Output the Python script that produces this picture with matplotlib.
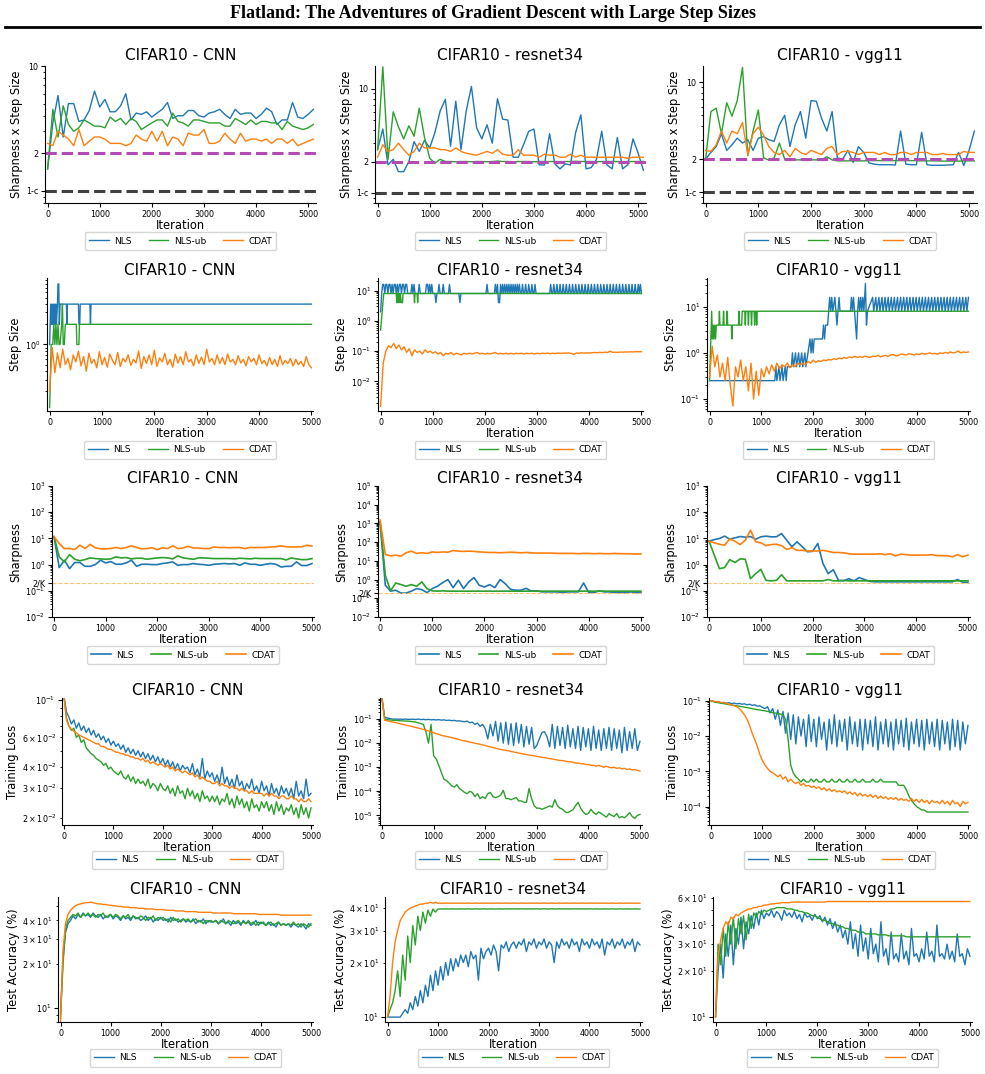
import numpy as np
import matplotlib.pyplot as plt
from matplotlib.lines import Line2D
from matplotlib.ticker import NullFormatter

# ---------------- data ----------------
methods = ['NLS', 'NLS-ub', 'CDAT']
models = ['CNN', 'resnet34', 'vgg11']

# row 1: sharpness x step size, every 100 iterations (0..5100)
sxs_cnn_nls = [1.5, 3.5, 5.8, 2.7, 5.0, 5.0, 3.6, 3.7, 4.4, 6.3, 4.7, 5.4, 4.3, 4.3, 4.8, 6.0, 3.7, 4.2, 4.1, 4.3,
               3.9, 4.2, 4.5, 5.1, 3.8, 4.0, 4.0, 4.4, 4.4, 4.0, 3.9, 4.2, 4.3, 4.5, 4.1, 3.8, 4.5, 4.1, 4.2, 4.2,
               3.8, 4.1, 4.6, 4.3, 3.4, 3.7, 3.7, 5.1, 3.9, 3.8, 4.1, 4.5]
sxs_cnn_ub = [1.5, 4.5, 2.7, 4.8, 3.4, 3.0, 3.2, 3.7, 3.5, 3.3, 3.3, 3.2, 3.9, 3.6, 3.8, 3.4, 3.8, 3.6, 3.1, 3.3,
              3.5, 3.7, 3.7, 3.3, 4.2, 3.6, 3.5, 3.3, 3.7, 3.7, 3.6, 3.5, 3.5, 3.5, 3.3, 3.3, 3.8, 3.6, 3.4, 3.7,
              3.4, 3.6, 3.6, 3.5, 3.5, 3.1, 3.6, 3.3, 3.2, 3.1, 3.2, 3.4]
sxs_cnn_cdat = [2.4, 2.3, 3.0, 2.8, 2.6, 2.3, 3.1, 2.3, 2.5, 2.7, 2.7, 2.6, 2.4, 2.4, 2.4, 2.3, 2.4, 2.8, 2.6, 2.5,
                3.0, 2.5, 3.0, 2.3, 2.7, 2.6, 2.3, 2.9, 2.8, 2.8, 3.1, 2.4, 2.4, 2.5, 2.9, 2.6, 2.4, 2.9, 2.5, 2.6,
                2.6, 2.5, 2.6, 2.4, 2.6, 2.6, 2.4, 2.6, 2.3, 2.4, 2.5, 2.6]
sxs_res_nls = [2.6, 4.1, 1.86, 2.1, 1.6, 1.6, 2.0, 3.1, 2.5, 3.2, 2.7, 3.8, 6.1, 7.9, 2.8, 7.6, 2.6, 6.1, 10.5, 4.2,
               3.3, 4.5, 3.0, 8.0, 5.1, 5.0, 2.2, 2.2, 2.9, 3.9, 4.1, 1.86, 1.85, 3.7, 1.9, 1.7, 1.9, 1.85, 3.8, 5.6,
               1.7, 1.75, 2.1, 3.9, 1.86, 1.7, 3.4, 1.7, 1.86, 3.3, 2.4, 1.65]
sxs_res_ub = [2.6, 16.2, 2.1, 6.0, 4.3, 3.3, 4.4, 3.5, 6.5, 3.4, 2.15, 1.93, 2.1, 2.0, 2.0, 1.99, 2.0, 2.0, 1.99, 2.0,
              2.0, 1.99, 2.0, 2.02, 2.0, 2.0, 1.99, 2.0, 2.0, 2.0, 1.99, 2.0, 2.0, 2.0, 2.0, 1.99, 2.0, 2.0, 2.01, 2.0,
              2.0, 2.0, 1.99, 2.0, 2.0, 2.0, 2.0, 1.99, 2.0, 2.0, 2.0, 2.0]
sxs_res_cdat = [2.2, 2.9, 2.5, 2.6, 3.0, 2.6, 2.3, 2.5, 3.0, 2.7, 2.7, 2.7, 2.6, 2.6, 2.5, 2.7, 2.5, 2.4, 2.35, 2.3,
                2.4, 2.5, 2.4, 2.6, 2.35, 2.3, 2.3, 2.6, 2.3, 2.3, 2.3, 2.2, 2.35, 2.3, 2.3, 2.2, 2.2, 2.35, 2.2, 2.3,
                2.2, 2.2, 2.2, 2.2, 2.2, 2.2, 2.2, 2.2, 2.15, 2.2, 2.2, 2.2]
sxs_vgg_nls = [2.0, 2.3, 2.6, 3.4, 2.4, 2.7, 3.1, 2.8, 3.0, 2.4, 3.1, 3.2, 3.0, 2.9, 4.1, 5.0, 2.6, 4.1, 5.4, 3.1,
               6.8, 6.7, 4.7, 3.6, 5.4, 2.05, 2.0, 2.4, 1.87, 2.6, 2.3, 1.85, 1.8, 1.78, 1.78, 1.78, 1.77, 3.6, 1.8, 1.78,
               1.78, 3.5, 1.78, 1.76, 1.76, 1.76, 1.77, 1.78, 2.3, 1.75, 2.4, 3.6]
sxs_vgg_ub = [2.0, 5.4, 5.8, 3.4, 6.5, 4.9, 6.8, 13.6, 2.15, 3.6, 5.6, 2.05, 1.96, 2.05, 2.8, 2.0, 1.97, 1.97, 1.97, 1.97,
              1.97, 1.97, 1.97, 2.1, 1.97, 1.93, 1.93, 1.93, 1.93, 1.93, 1.93, 1.94, 1.94, 1.94, 1.94, 1.94, 1.94, 1.94,
              1.94, 1.94, 1.94, 1.93, 1.93, 1.93, 1.93, 1.92, 1.92, 1.92, 1.92, 1.93, 1.93, 1.93]
sxs_vgg_cdat = [2.4, 2.35, 2.7, 3.6, 2.8, 3.6, 3.4, 4.3, 2.2, 3.4, 3.9, 3.3, 2.6, 2.3, 2.2, 2.4, 2.1, 2.5, 2.3, 2.2,
                2.4, 2.3, 2.2, 2.5, 2.6, 2.2, 2.35, 2.35, 2.3, 2.2, 2.3, 2.3, 2.3, 2.2, 2.3, 2.2, 2.2, 2.3, 2.3, 2.2,
                2.3, 2.3, 2.3, 2.2, 2.2, 2.25, 2.2, 2.2, 2.2, 2.35, 2.3, 2.3]

# row 2: step size
ss_cnn_nls_it = [0, 20, 30, 45, 55, 70, 80, 95, 105, 120, 130, 150, 160, 175, 185, 200, 210, 320, 330, 340,
                 550, 560, 575, 585, 770, 780, 790, 5000]
ss_cnn_nls = [1.0, 4, 2, 4, 2, 4, 2, 4, 2, 4, 2, 4, 8, 8, 2, 4, 4, 4, 2, 4, 4, 2, 2, 4, 4, 2, 4, 4]
ss_cnn_ub_it = [0, 30, 60, 80, 100, 120, 140, 160, 180, 200, 230, 245, 260, 280, 300, 510, 520, 560, 570, 5000]
ss_cnn_ub = [0.115, 1, 1, 2, 1, 2, 1, 2, 1, 1, 2, 4, 1, 1, 2, 2, 1, 1, 2, 2]
ss_cnn_cdat = [0.2, 0.9, 0.38, 0.75, 0.45, 0.85, 0.5, 0.62, 0.42, 0.7, 0.55, 0.8, 0.48, 0.66, 0.4, 0.74, 0.52, 0.6,
               0.45, 0.78, 0.5, 0.64, 0.46, 0.72, 0.58, 0.5, 0.76, 0.47, 0.62, 0.55, 0.7, 0.49, 0.6, 0.53, 0.8, 0.44,
               0.66, 0.52, 0.7, 0.5, 0.82, 0.47, 0.63, 0.55, 0.74, 0.5, 0.6, 0.46, 0.72, 0.53, 0.66, 0.5, 0.78, 0.55,
               0.6, 0.48, 0.7, 0.52, 0.65, 0.5, 0.85, 0.55, 0.62, 0.5, 0.7, 0.52, 0.64, 0.5, 0.72, 0.55, 0.6, 0.5,
               0.68, 0.53, 0.6, 0.48, 0.66, 0.55, 0.62, 0.5, 0.7, 0.52, 0.58, 0.48, 0.64, 0.5, 0.6, 0.47, 0.68, 0.5,
               0.58, 0.52, 0.62, 0.48, 0.6, 0.5, 0.56, 0.47, 0.66, 0.5, 0.45]

ss_res_nls_start = 2.0
ss_res_nls_base = 8.0
ss_res_nls_hi = [40, 60, 100, 120, 160, 180, 220, 260, 280, 320, 360, 380, 420, 440, 480, 500, 600, 640, 740, 880,
                 900, 940, 980, 1120, 1200, 1320, 2040, 2200, 2240, 2300, 2340, 2380, 2420, 2460, 2500, 2540, 2580,
                 2620, 2660, 2720, 2780, 2840, 2900, 2960, 3260, 3320, 3380, 3440, 3500, 3560, 3620, 3680, 3740, 3800,
                 3860, 3920, 3980, 4040, 4100, 4160, 4220, 4280, 4340, 4400, 4460, 4520, 4580, 4640, 4700, 4760,
                 4820, 4880, 4940, 4980]
ss_res_nls_lo = [1060, 1520, 2260, 2280]
ss_res_ub_it = [0, 30, 60, 300, 310, 320, 330, 345, 355, 370, 380, 395, 405, 420, 430, 640, 650, 660, 700, 710, 720, 5000]
ss_res_ub = [0.5, 2, 8, 8, 4, 4, 8, 4, 8, 4, 8, 4, 4, 4, 8, 8, 4, 8, 8, 4, 8, 8]
ss_res_cdat = [0.0015, 0.04, 0.1, 0.15, 0.13, 0.18, 0.12, 0.16, 0.11, 0.14, 0.09,
               0.12, 0.07, 0.11, 0.09, 0.1, 0.08, 0.11, 0.09, 0.1, 0.085,
               0.095, 0.08, 0.09, 0.07, 0.085, 0.08, 0.09, 0.075, 0.085, 0.08,
               0.075, 0.085, 0.08, 0.085, 0.08, 0.085, 0.09, 0.08, 0.085, 0.08,
               0.085, 0.08, 0.085, 0.09, 0.08, 0.085, 0.08, 0.085, 0.08, 0.085,
               0.08, 0.085, 0.082, 0.085, 0.08, 0.085, 0.082, 0.085, 0.08, 0.085,
               0.082, 0.085, 0.083, 0.086, 0.082, 0.085, 0.083, 0.086, 0.084, 0.086,
               0.085, 0.087, 0.084, 0.078, 0.086, 0.085, 0.088, 0.086, 0.088, 0.087,
               0.088, 0.09, 0.088, 0.091, 0.089, 0.092, 0.09, 0.1, 0.091, 0.092,
               0.091, 0.093, 0.092, 0.094, 0.093, 0.095, 0.094, 0.096, 0.095, 0.096]

ss_vgg_nls_it = [0, 1260, 1280, 1300, 1340, 1360, 1400, 1420, 1460, 1480, 1500, 1580, 1600, 1620, 1660, 1680, 1720,
                 1740, 1780, 1800, 1840, 1860, 1900, 1940, 1960, 1980, 2000, 2020, 2180, 2200, 2220, 2240, 2280, 2300,
                 2320, 2340, 2360, 2380, 2420, 2440, 2460, 2480, 2500, 2520, 2720, 2740, 2760, 2780, 2800, 2840, 2860,
                 2880, 2900, 2920, 2940, 2960, 2980, 3010, 3030, 3050,
                 3150, 3170, 3210, 3230, 3270, 3290, 3330, 3350, 3390, 3410, 3450, 3470, 3510, 3530, 3570, 3590,
                 3630, 3650, 3690, 3710, 3750, 3770, 3810, 3830, 3870, 3890, 3930, 3950, 3990, 4010, 4050, 4070,
                 4110, 4130, 4170, 4190, 4230, 4250, 4290, 4310, 4350, 4370, 4410, 4430, 4470, 4490, 4530, 4550,
                 4590, 4610, 4650, 4670, 4710, 4730, 4770, 4790, 4830, 4850, 4890, 4910, 4950, 4970, 5000]
ss_vgg_nls = [0.25, 0.25, 0.5, 0.25, 0.5, 0.25, 0.5, 0.25, 0.5, 0.25, 0.5, 0.5, 1, 0.5, 1, 0.5, 1, 0.5, 1, 0.5,
              1, 0.5, 1, 2, 1, 2, 1, 2, 2, 4, 2, 4, 4, 8, 16, 8, 16, 8, 16, 8, 4, 8, 16, 8, 8, 16, 8, 16, 8, 2,
              8, 16, 8, 16, 8, 16, 8, 32, 4, 8,
              16, 8, 16, 8, 16, 8, 16, 8, 16, 8, 16, 8, 16, 8, 16, 8, 16, 8, 16, 8, 16, 8, 16, 8, 16, 8, 16, 8,
              16, 8, 16, 8, 16, 8, 16, 8, 16, 8, 16, 8, 16, 8, 16, 8, 16, 8, 16, 8, 16, 8, 16, 8, 16, 8, 16, 8,
              16, 8, 16, 8, 16, 8, 16]
ss_vgg_ub_it = [0, 40, 55, 70, 85, 100, 115, 130, 180, 190, 200, 260, 270, 280, 330, 340, 350, 420, 430, 440,
                560, 570, 580, 620, 630, 640, 680, 690, 700, 740, 750, 760, 800, 810, 820, 860, 870, 880, 900, 910,
                920, 960, 970, 5000]
ss_vgg_ub = [0.25, 8, 2, 4, 2, 4, 2, 4, 4, 8, 4, 4, 8, 4, 4, 8, 4, 4, 2, 4, 4, 8, 4, 4, 8, 8, 8, 4, 8, 8,
             4, 8, 8, 4, 8, 8, 4, 8, 8, 4, 8, 8, 8, 8]
ss_vgg_cdat = [0.3, 1.4, 0.5, 0.9, 0.3, 0.6, 0.25, 0.8, 0.2, 0.07, 0.5, 0.3, 0.7, 0.25, 0.5, 0.15, 0.6, 0.1, 0.4,
               0.12, 0.45, 0.3, 0.5, 0.35, 0.55, 0.4, 0.6, 0.45, 0.55, 0.5, 0.6, 0.48, 0.55, 0.5, 0.6, 0.55, 0.6,
               0.55, 0.65, 0.6, 0.7, 0.62, 0.68, 0.65, 0.7, 0.68, 0.72, 0.7, 0.75, 0.72, 0.78, 0.74, 0.8, 0.76,
               0.82, 0.78, 0.85, 0.8, 0.83, 0.8, 0.85, 0.82, 0.8, 0.85, 0.83, 0.88, 0.82, 0.86, 0.88, 0.84, 0.9,
               0.92, 0.86, 0.88, 0.95, 0.92, 0.9, 0.96, 0.93, 0.9, 0.95, 0.92, 0.98, 0.94, 0.96, 1.0, 0.95, 0.98,
               0.94, 1.0, 0.97, 1.02, 0.98, 1.05, 1.0, 1.02, 1.1, 1.0, 1.05, 1.02, 1.05]

# row 3: sharpness, every 100 iterations (0..5000)
sh_cnn_nls = [11.6, 0.77, 1.47, 0.7, 1.2, 1.2, 0.86, 0.86, 1.0, 1.47, 1.16, 1.3, 1.03, 1.03, 1.16, 1.47, 0.86, 1.03,
              1.03, 1.0, 1.0, 1.1, 1.16, 1.27, 0.94, 1.0, 1.0, 1.1, 1.03, 1.0, 0.94, 1.03, 1.06, 1.1, 1.06, 1.1, 0.94,
              1.16, 1.03, 1.03, 0.94, 1.03, 1.1, 1.03, 0.81, 0.86, 0.86, 1.27, 0.92, 0.92, 1.1]
sh_cnn_ub = [11.6, 1.97, 1.27, 2.4, 1.6, 1.4, 1.55, 1.8, 1.7, 1.65, 1.6, 1.65, 1.97, 1.8, 1.85, 1.65, 1.75, 1.75,
             1.6, 1.7, 1.8, 1.85, 1.8, 1.65, 2.15, 1.8, 1.7, 1.6, 1.8, 1.8, 1.75, 1.7, 1.7, 1.7, 1.7, 1.65, 1.75,
             1.7, 1.65, 1.75, 1.7, 1.7, 1.7, 1.7, 1.7, 1.5, 1.8, 1.65, 1.55, 1.55, 1.7]
sh_cnn_cdat = [11.6, 6.4, 4.1, 4.1, 3.8, 5.5, 4.1, 5.9, 4.4, 4.0, 4.0, 4.1, 4.5, 4.1, 4.5, 5.2, 4.5, 4.0, 4.1, 4.4,
               3.7, 4.4, 4.1, 5.2, 4.1, 4.3, 5.0, 4.3, 4.3, 4.1, 4.1, 4.7, 4.5, 4.5, 4.4, 4.5, 4.5, 4.1, 4.5, 4.5,
               4.5, 4.5, 4.7, 4.8, 5.2, 4.8, 4.7, 4.7, 4.8, 5.5, 5.1]
sh_res_nls = [1200, 0.5, 0.24, 0.27, 0.19, 0.19, 0.24, 0.33, 0.29, 0.2, 0.33, 0.44, 0.69, 1.0, 0.37, 0.92, 0.33, 0.75,
              1.28, 0.5, 0.4, 0.54, 0.37, 1.0, 0.6, 0.3, 0.27, 0.27, 0.34, 0.24, 0.25, 0.22, 0.22, 0.22, 0.22, 0.2,
              0.22, 0.22, 0.22, 0.66, 0.2, 0.2, 0.25, 0.22, 0.22, 0.2, 0.2, 0.2, 0.22, 0.2, 0.2]
sh_res_ub = [1200, 1.7, 0.25, 0.66, 0.54, 0.44, 0.54, 0.44, 0.75, 0.33, 0.25, 0.24, 0.25, 0.24, 0.24, 0.24, 0.24,
             0.24, 0.24, 0.24, 0.24, 0.24, 0.24, 0.24, 0.24, 0.24, 0.24, 0.24, 0.24, 0.24, 0.24, 0.24, 0.24, 0.24,
             0.24, 0.24, 0.24, 0.24, 0.24, 0.24, 0.24, 0.24, 0.24, 0.24, 0.24, 0.24, 0.24, 0.24, 0.24, 0.24, 0.24]
sh_res_cdat = [1500, 22, 18.5, 20, 18, 27, 33, 25, 27, 25, 30, 28, 30, 29, 36, 33, 32, 33, 32, 30, 29, 28, 28, 27,
               28, 29, 28, 27, 28, 27, 26, 26, 26, 26, 25, 25, 25, 25, 24, 25, 25, 24, 25, 24, 24, 25, 24, 24, 24,
               23, 23.5]
sh_vgg_nls = [7.8, 9.0, 9.9, 12.2, 9.3, 10.5, 11.8, 11.1, 11.8, 9.3, 11.5, 12.2, 11.5, 11.5, 15.3, 8.5, 4.8, 7.4,
              4.8, 3.1, 3.2, 6.4, 1.09, 0.45, 0.64, 0.25, 0.24, 0.29, 0.24, 0.32, 0.27, 0.23, 0.22, 0.22, 0.22, 0.22,
              0.22, 0.22, 0.22, 0.22, 0.22, 0.22, 0.22, 0.22, 0.22, 0.22, 0.22, 0.22, 0.27, 0.21, 0.21]
sh_vgg_ub = [7.8, 2.3, 0.7, 0.77, 1.55, 1.2, 1.65, 1.6, 0.29, 0.45, 0.66, 0.25, 0.24, 0.25, 0.41, 0.24, 0.24, 0.24,
             0.24, 0.24, 0.24, 0.24, 0.24, 0.27, 0.24, 0.24, 0.25, 0.24, 0.24, 0.24, 0.24, 0.24, 0.24, 0.24, 0.24,
             0.24, 0.24, 0.24, 0.24, 0.24, 0.24, 0.24, 0.24, 0.24, 0.24, 0.24, 0.24, 0.24, 0.24, 0.24, 0.24]
sh_vgg_cdat = [7.8, 6.8, 6.0, 5.5, 9.6, 7.8, 5.8, 8.5, 20.7, 7.4, 6.8, 5.3, 5.8, 6.0, 5.3, 3.8, 4.4, 3.5, 3.5, 3.3,
               3.3, 3.3, 3.5, 3.2, 2.9, 2.9, 2.8, 2.6, 2.5, 2.5, 2.5, 2.5, 2.5, 2.6, 2.4, 2.6, 2.15, 2.5, 2.4, 2.3,
               2.3, 2.3, 2.3, 2.4, 2.2, 2.2, 2.2, 1.97, 2.4, 2.0, 2.3]
two_over_k = 0.2

# row 4: training loss, every 50 iterations (0..5000)
tl_cnn_nls = [0.105,
              0.085, 0.079, 0.072, 0.076, 0.068, 0.073, 0.066, 0.07, 0.064, 0.068,
              0.062, 0.066, 0.06, 0.063, 0.058, 0.061, 0.056, 0.059, 0.054, 0.057,
              0.053, 0.055, 0.051, 0.054, 0.049, 0.052, 0.048, 0.051, 0.047, 0.05,
              0.046, 0.049, 0.045, 0.048, 0.044, 0.047, 0.043, 0.046, 0.042, 0.045,
              0.041, 0.044, 0.04, 0.043, 0.039, 0.042, 0.038, 0.041, 0.039, 0.04,
              0.037, 0.042, 0.036, 0.039, 0.035, 0.045, 0.034, 0.038, 0.035, 0.037,
              0.033, 0.036, 0.032, 0.04, 0.032, 0.035, 0.031, 0.034, 0.03, 0.036,
              0.031, 0.033, 0.029, 0.032, 0.03, 0.034, 0.029, 0.031, 0.028, 0.033,
              0.029, 0.031, 0.027, 0.032, 0.028, 0.03, 0.027, 0.031, 0.028, 0.03,
              0.027, 0.03, 0.026, 0.033, 0.027, 0.029, 0.026, 0.034, 0.027, 0.028]
tl_cnn_ub = [0.105,
             0.078, 0.07, 0.066, 0.068, 0.06, 0.062, 0.056, 0.058, 0.052, 0.05,
             0.048, 0.047, 0.045, 0.044, 0.043, 0.041, 0.042, 0.039, 0.04, 0.038,
             0.037, 0.036, 0.038, 0.035, 0.034, 0.036, 0.033, 0.035, 0.032, 0.034,
             0.032, 0.033, 0.031, 0.034, 0.03, 0.032, 0.031, 0.029, 0.032, 0.03,
             0.029, 0.031, 0.028, 0.03, 0.027, 0.031, 0.028, 0.029, 0.026, 0.03,
             0.027, 0.029, 0.026, 0.028, 0.025, 0.029, 0.026, 0.027, 0.025, 0.027,
             0.025, 0.027, 0.024, 0.026, 0.025, 0.028, 0.024, 0.026, 0.023, 0.027,
             0.024, 0.026, 0.023, 0.025, 0.022, 0.026, 0.023, 0.024, 0.022, 0.025,
             0.023, 0.025, 0.022, 0.024, 0.021, 0.025, 0.022, 0.024, 0.021, 0.023,
             0.022, 0.024, 0.021, 0.023, 0.02, 0.024, 0.021, 0.023, 0.02, 0.023]
tl_cnn_cdat = [0.105,
               0.076, 0.07, 0.067, 0.065, 0.064, 0.062, 0.061, 0.06, 0.059, 0.058,
               0.057, 0.056, 0.055, 0.055, 0.053, 0.053, 0.052, 0.051, 0.051, 0.05,
               0.049, 0.049, 0.048, 0.048, 0.047, 0.047, 0.046, 0.046, 0.045, 0.045,
               0.044, 0.045, 0.043, 0.044, 0.042, 0.043, 0.042, 0.041, 0.042, 0.041,
               0.04, 0.041, 0.039, 0.04, 0.038, 0.039, 0.038, 0.037, 0.038, 0.037,
               0.036, 0.037, 0.035, 0.036, 0.034, 0.035, 0.034, 0.033, 0.033, 0.032,
               0.032, 0.033, 0.031, 0.032, 0.031, 0.031, 0.030, 0.031, 0.030, 0.030,
               0.029, 0.030, 0.029, 0.029, 0.028, 0.029, 0.028, 0.028, 0.028, 0.028,
               0.027, 0.028, 0.027, 0.028, 0.027, 0.027, 0.026, 0.027, 0.027, 0.026,
               0.026, 0.027, 0.026, 0.026, 0.025, 0.026, 0.025, 0.025, 0.026, 0.025]
tl_res_nls = [0.7,
              0.12, 0.11, 0.105, 0.1, 0.1, 0.098, 0.1, 0.097, 0.1, 0.098,
              0.097, 0.099, 0.096, 0.1, 0.095, 0.098, 0.094, 0.097, 0.093, 0.095,
              0.092, 0.095, 0.09, 0.093, 0.088, 0.09, 0.086, 0.088, 0.083, 0.085,
              0.08, 0.078, 0.082, 0.07, 0.075, 0.06, 0.068, 0.05, 0.06, 0.04,
              0.015, 0.06, 0.02, 0.08, 0.012, 0.07, 0.01, 0.075, 0.009, 0.065,
              0.008, 0.07, 0.01, 0.06, 0.007, 0.05, 0.009, 0.045, 0.006, 0.008,
              0.015, 0.028, 0.03, 0.018, 0.007, 0.06, 0.006, 0.05, 0.008, 0.045,
              0.006, 0.055, 0.007, 0.04, 0.006, 0.05, 0.005, 0.045, 0.007, 0.04,
              0.005, 0.05, 0.006, 0.035, 0.005, 0.04, 0.006, 0.045, 0.005, 0.04,
              0.006, 0.035, 0.004, 0.045, 0.005, 0.03, 0.006, 0.04, 0.005, 0.012]
tl_res_ub = [0.7,
             0.1, 0.095, 0.092, 0.09, 0.088, 0.087, 0.085, 0.084, 0.083, 0.082,
             0.08, 0.078, 0.075, 0.07, 0.065, 0.06, 0.03, 0.01, 0.06, 0.003,
             0.0022, 0.0012, 6e-4, 3.2e-4, 2.8e-4, 2.2e-4, 1.7e-4, 1.5e-4, 1.9e-4, 1.3e-4,
             1.1e-4, 9e-5, 8e-5, 1e-4, 9e-5, 6e-5, 8e-5, 5e-5, 6e-5, 5e-5,
             8e-5, 9e-5, 6e-5, 5.5e-5, 6e-5, 7e-5, 1.1e-4, 5e-5, 5e-5, 4.5e-5,
             5e-5, 5.5e-5, 4e-5, 4e-5, 3.5e-5, 3.5e-5, 1.3e-4, 5e-5, 2.5e-5, 2e-5,
             2e-5, 1.8e-5, 2e-5, 2.2e-5, 2.5e-5, 2.2e-5, 4.5e-5, 2.5e-5, 2e-5, 1.8e-5,
             1.4e-5, 1.3e-5, 1.5e-5, 1.7e-5, 2.5e-5, 3.5e-5, 2e-5, 1.4e-5, 1.1e-5, 1.2e-5,
             1.8e-5, 1.3e-5, 1.1e-5, 1.4e-5, 1.2e-5, 1e-5, 8.5e-6, 1.2e-5, 1e-5, 9e-6,
             1.2e-5, 8e-6, 9e-6, 8e-6, 1e-5, 1.3e-5, 9e-6, 7.5e-6, 1e-5, 1.1e-5]
tl_res_cdat = [0.7,
               0.09, 0.085, 0.08, 0.076, 0.072, 0.068, 0.064, 0.061, 0.057, 0.054,
               0.051, 0.048, 0.045, 0.042, 0.04, 0.037, 0.035, 0.032, 0.03, 0.027,
               0.025, 0.023, 0.021, 0.02, 0.019, 0.018, 0.017, 0.016, 0.015, 0.014,
               0.013, 0.0125, 0.012, 0.011, 0.0105, 0.01, 0.0095, 0.009, 0.0085, 0.008,
               0.0074, 0.007, 0.0066, 0.0062, 0.0058, 0.0055, 0.0052, 0.005, 0.0048, 0.0045,
               0.0043, 0.0041, 0.0039, 0.0037, 0.0035, 0.0034, 0.0032, 0.0031, 0.003, 0.0028,
               0.0027, 0.0026, 0.0025, 0.0024, 0.0023, 0.0022, 0.0021, 0.002, 0.0019, 0.0019,
               0.0018, 0.0017, 0.0017, 0.0016, 0.0015, 0.0015, 0.0014, 0.0014, 0.0013, 0.0013,
               0.0012, 0.0012, 0.0011, 0.0012, 0.0011, 0.001, 0.0011, 0.001, 0.00095, 0.001,
               0.0009, 0.00095, 0.00085, 0.0009, 0.0008, 0.00085, 0.00078, 0.0008, 0.00075, 0.0007]
tl_vgg_nls = [0.1,
              0.095, 0.09, 0.092, 0.087, 0.09, 0.085, 0.088, 0.083, 0.086, 0.082,
              0.084, 0.08, 0.082, 0.077, 0.08, 0.074, 0.077, 0.07, 0.072, 0.065,
              0.06, 0.068, 0.045, 0.06, 0.03, 0.055, 0.02, 0.05, 0.012, 0.045,
              0.008, 0.04, 0.006, 0.035, 0.01, 0.03, 0.005, 0.04, 0.007, 0.03,
              0.005, 0.035, 0.008, 0.025, 0.004, 0.03, 0.006, 0.04, 0.005, 0.028,
              0.007, 0.03, 0.004, 0.035, 0.006, 0.025, 0.005, 0.03, 0.004, 0.03,
              0.006, 0.028, 0.005, 0.035, 0.004, 0.025, 0.006, 0.03, 0.005, 0.025,
              0.004, 0.03, 0.006, 0.028, 0.005, 0.032, 0.004, 0.025, 0.006, 0.03,
              0.005, 0.028, 0.004, 0.03, 0.006, 0.025, 0.005, 0.03, 0.004, 0.028,
              0.006, 0.025, 0.004, 0.03, 0.005, 0.028, 0.004, 0.025, 0.006, 0.02]
tl_vgg_ub = [0.1,
             0.095, 0.09, 0.088, 0.085, 0.083, 0.08, 0.078, 0.076, 0.074, 0.072,
             0.07, 0.068, 0.066, 0.064, 0.062, 0.06, 0.058, 0.056, 0.055, 0.053,
             0.052, 0.05, 0.048, 0.046, 0.045, 0.043, 0.042, 0.04, 0.03, 0.008,
             0.0015, 0.0009, 0.0007, 0.0006, 0.0005, 0.0006, 0.0005, 0.0005, 0.0006, 0.0005,
             0.0006, 0.0005, 0.0005, 0.0006, 0.0005, 0.0005, 0.0006, 0.0005, 0.0005, 0.0006,
             0.0005, 0.0005, 0.0006, 0.0005, 0.0005, 0.0006, 0.0005, 0.0005, 0.0006, 0.0005,
             0.0005, 0.0005, 0.0006, 0.0005, 0.0005, 0.0006, 0.0005, 0.0005, 0.0005, 0.0005,
             0.0005, 0.0005, 0.0004, 0.0004, 0.0004, 0.0003, 0.0002, 0.00015, 0.00012, 0.0001,
             9e-5, 8e-5, 8e-5, 7e-5, 7e-5, 7e-5, 7e-5, 7e-5, 7e-5, 7e-5,
             7e-5, 7e-5, 7e-5, 7e-5, 7e-5, 7e-5, 7e-5, 7e-5, 7e-5, 7e-5]
tl_vgg_cdat = [0.1,
               0.097, 0.095, 0.093, 0.09, 0.088, 0.085, 0.08, 0.078, 0.072, 0.068,
               0.06, 0.05, 0.04, 0.03, 0.02, 0.012, 0.008, 0.005, 0.003, 0.002,
               0.0015, 0.0012, 0.001, 0.0009, 0.0008, 0.0007, 0.0008, 0.0006, 0.0007, 0.0005,
               0.0006, 0.0005, 0.00045, 0.0005, 0.0004, 0.00045, 0.00038, 0.0004, 0.00035, 0.00038,
               0.00033, 0.00036, 0.0003, 0.00034, 0.00028, 0.00032, 0.00027, 0.0003, 0.00026, 0.00028,
               0.00025, 0.00028, 0.00023, 0.00026, 0.00022, 0.00025, 0.0002, 0.00024, 0.0002, 0.00022,
               0.00019, 0.00022, 0.00018, 0.00021, 0.00017, 0.0002, 0.00017, 0.00019, 0.00016, 0.00018,
               0.00016, 0.00018, 0.00015, 0.00017, 0.00015, 0.00016, 0.00014, 0.00017, 0.00014, 0.00016,
               0.00013, 0.00016, 0.00013, 0.00015, 0.00012, 0.00015, 0.00013, 0.00014, 0.00012, 0.00015,
               0.00012, 0.00014, 0.00011, 0.00015, 0.00012, 0.00013, 0.0001, 0.00014, 0.00012, 0.00013]

# row 5: test accuracy (%), every 50 iterations (0..5000)
ta_cnn_nls = [9,
              22, 33, 38, 40, 43, 41, 44, 42, 45, 43,
              44, 42, 45, 43, 42, 44, 41, 43, 42, 44,
              41, 43, 42, 40, 43, 41, 42, 40, 43, 41,
              42, 40, 41, 43, 40, 42, 39, 41, 40, 42,
              40, 41, 39, 42, 40, 41, 39, 40, 41, 39,
              40, 39, 41, 38, 40, 39, 41, 38, 40, 39,
              39, 40, 38, 39, 41, 38, 39, 37, 40, 38,
              39, 37, 40, 38, 39, 37, 38, 40, 37, 39,
              38, 37, 39, 37, 38, 36, 39, 37, 38, 37,
              38, 36, 38, 37, 36, 38, 37, 35, 38, 37]
ta_cnn_ub = [8.5,
             20, 35, 40, 42, 44, 43, 45, 42, 44, 43,
             45, 43, 44, 42, 44, 43, 45, 42, 43, 44,
             42, 44, 43, 41, 43, 42, 44, 41, 43, 42,
             41, 43, 42, 40, 42, 41, 43, 40, 42, 41,
             42, 40, 41, 39, 42, 40, 41, 39, 41, 40,
             41, 39, 40, 41, 39, 40, 38, 40, 39, 40,
             39, 40, 38, 40, 39, 38, 40, 39, 38, 39,
             40, 38, 39, 38, 40, 38, 39, 37, 39, 38,
             39, 37, 38, 39, 37, 38, 39, 37, 38, 37,
             38, 37, 39, 37, 38, 36, 38, 37, 36, 38]
ta_cnn_cdat = [8,
               25, 38, 44, 47, 49, 50.5, 51.5, 52, 52.5, 53,
               53, 53.5, 53, 52.5, 52, 52, 51.5, 51.5, 51, 51,
               50.5, 50.5, 50, 50, 49.5, 49.5, 49.5, 49, 49, 49,
               48.5, 48.5, 48.5, 48, 48, 48, 48, 47.5, 47.5, 47.5,
               47.5, 47, 47, 47, 47, 46.5, 46.5, 46.5, 46.5, 46,
               46, 46, 46, 46, 45.5, 45.5, 45.5, 45.5, 45.5, 45.5,
               45, 45, 45, 45, 45, 45, 45, 45, 44.5, 44.5,
               44.5, 44.5, 44.5, 44.5, 44.5, 44.5, 44.5, 44.5, 44, 44,
               44, 44, 44, 44, 44, 44, 44, 43.5, 43.5, 43.5,
               43.5, 43.5, 43.5, 43.5, 43.5, 43.5, 43.5, 43.5, 43.5, 43.5]
ta_res_nls = [10,
              10, 10, 10, 10, 10, 10.5, 11, 10.5, 12, 11,
              13, 11.5, 14, 12, 15, 13, 17, 14, 18, 15,
              19, 16, 20, 17, 21, 18, 21, 19, 22, 20,
              22, 19, 23, 21, 22, 16, 24, 21, 23, 24,
              22, 25, 23, 18, 25, 24, 26, 23, 25, 26,
              24, 26, 25, 27, 23, 26, 25, 27, 24, 26,
              25, 27, 24, 26, 25, 20, 26, 24, 27, 25,
              26, 24, 27, 25, 26, 23, 27, 25, 26, 24,
              27, 25, 26, 24, 27, 22, 26, 25, 27, 24,
              26, 25, 27, 24, 26, 25, 27, 23, 26, 25]
ta_res_ub = [10,
             11, 12, 14, 18, 13, 22, 16, 28, 20, 32,
             25, 36, 30, 38, 33, 39, 36, 39.5, 38, 39.5,
             39.5, 39.5, 39.6, 39.5, 39.5, 39.6, 39.5, 39.5, 39.6, 39.5,
             39.5, 39.6, 39.5, 39.5, 39.6, 39.5, 39.5, 39.6, 39.5, 39.5,
             39.6, 39.5, 39.5, 39.6, 39.5, 39.5, 39.6, 39.5, 39.5, 39.6,
             39.5, 39.5, 39.6, 39.5, 39.5, 39.6, 39.5, 39.5, 39.6, 39.5,
             39.5, 39.6, 39.5, 39.5, 39.6, 39.5, 39.5, 39.6, 39.5, 39.5,
             39.6, 39.5, 39.5, 39.6, 39.5, 39.5, 39.6, 39.5, 39.5, 39.6,
             39.5, 39.5, 39.6, 39.5, 39.5, 39.6, 39.5, 39.5, 39.6, 39.5,
             39.5, 39.6, 39.5, 39.5, 39.6, 39.5, 39.5, 39.6, 39.5, 39.5]
ta_res_cdat = [10,
               13, 20, 26, 30, 34, 36, 38, 39, 40, 40.5,
               41, 41.5, 42, 42, 42.5, 42.5, 43, 42.5, 43, 42.5,
               42.5, 42.5, 42.6, 42.5, 42.5, 42.6, 42.5, 42.5, 42.6, 42.5,
               42.5, 42.6, 42.5, 42.5, 42.6, 42.5, 42.5, 42.6, 42.5, 42.5,
               42.6, 42.5, 42.5, 42.6, 42.5, 42.5, 42.6, 42.5, 42.5, 42.6,
               42.5, 42.5, 42.6, 42.5, 42.5, 42.6, 42.5, 42.5, 42.6, 42.5,
               42.5, 42.6, 42.5, 42.5, 42.6, 42.5, 42.5, 42.6, 42.5, 42.5,
               42.6, 42.5, 42.5, 42.6, 42.5, 42.5, 42.6, 42.5, 42.5, 42.6,
               42.5, 42.5, 42.6, 42.5, 42.5, 42.6, 42.5, 42.5, 42.6, 42.5,
               42.5, 42.6, 42.5, 42.5, 42.6, 42.5, 42.5, 42.6, 42.5, 42.5]
ta_vgg_nls = [10,
              20, 30, 18, 35, 25, 40, 22, 38, 30, 45,
              28, 42, 35, 46, 38, 48, 40, 50, 44, 48,
              46, 50, 45, 49, 47, 43, 50, 46, 48, 45,
              49, 44, 47, 42, 48, 45, 46, 43, 47, 44,
              46, 42, 45, 40, 44, 38, 42, 36, 40, 33,
              37, 30, 42, 28, 35, 25, 40, 27, 33, 24,
              38, 26, 30, 23, 42, 25, 28, 22, 36, 24,
              26, 23, 35, 24, 27, 22, 38, 25, 26, 23,
              28, 24, 36, 25, 27, 23, 40, 25, 26, 24,
              30, 24, 27, 23, 35, 25, 26, 22, 28, 25]
ta_vgg_ub = [10,
             30, 22, 38, 25, 42, 30, 45, 28, 44, 35,
             46, 32, 47, 38, 48, 45, 49, 47, 50, 49,
             50, 51, 51, 52, 52, 52, 52, 51, 51, 51,
             50, 50, 49, 49, 48, 48, 47, 46, 46, 45,
             44, 43, 43, 42, 41, 41, 40, 40, 39, 39,
             38, 38, 37, 37, 37, 36, 36, 36, 35, 35,
             35, 35, 35, 34.5, 34.5, 34.5, 34.5, 34, 34, 34,
             34, 34, 34, 34, 33.5, 33.5, 33.5, 33.5, 33.5, 33.5,
             33.5, 33.5, 33.5, 33.5, 33.5, 33.5, 33.5, 33.5, 33.5, 33.5,
             33.5, 33.5, 33.5, 33.5, 33.5, 33.5, 33.5, 33.5, 33.5, 33.5]
ta_vgg_cdat = [10,
               25, 32, 38, 42, 40, 45, 44, 47, 46, 48,
               49, 50, 51, 51, 52, 52, 53, 53, 54, 54,
               54.5, 55, 55, 55.5, 55.5, 56, 56, 56, 56, 56.5,
               56.5, 56.5, 56.5, 56.5, 56.5, 56.5, 56.5, 56.5, 56.5, 56.5,
               56.5, 56.5, 56.5, 57, 57, 57, 57, 57, 57, 57,
               57, 57, 57, 57, 57, 57, 57, 57, 57, 57,
               57, 57, 57, 57, 57, 57, 57, 57, 57, 57,
               57, 57, 57, 57, 57, 57, 57, 57, 57, 57,
               57, 57, 57, 57, 57, 57, 57, 57, 57, 57,
               57, 57, 57, 57, 57, 57, 57, 57, 57, 57]

# ---------------- figure ----------------
W, H = 985, 1074
fig = plt.figure(figsize=(W / 100, H / 100), dpi=100)
colors = ['#1f77b4', '#2ca02c', '#ff7f0e']

fig.text(0.5, 1 - 14 / H, 'Flatland: The Adventures of Gradient Descent with Large Step Sizes',
         ha='center', va='center', fontsize=13, fontweight='bold', family='Liberation Serif')
fig.add_artist(Line2D([5 / W, 980 / W], [1 - 27 / H, 1 - 27 / H], color='black', lw=2))

# axes boxes in pixels (left, top, right, bottom)
boxes = [
    [(45, 66, 316, 203), (375, 66, 646, 203), (703, 66, 977, 203)],
    [(47, 278, 313, 411), (378, 278, 643, 411), (707, 278, 970, 411)],
    [(52, 486, 314, 617), (378, 486, 643, 617), (707, 486, 970, 617)],
    [(62, 698, 313, 825), (380, 698, 642, 825), (709, 698, 970, 825)],
    [(58, 897, 313, 1022), (385, 897, 642, 1022), (713, 897, 972, 1022)],
]
legend_y = [241, 450, 655, 860, 1058]
ylabels = ['Sharpness x Step Size', 'Step Size', 'Sharpness', 'Training Loss', 'Test Accuracy (%)']


def make_ax(r, c):
    l, t, rr, b = boxes[r][c]
    ax = fig.add_axes([l / W, 1 - b / H, (rr - l) / W, (b - t) / H])
    ax.set_yscale('log')
    ax.spines[['top', 'right']].set_visible(False)
    ax.tick_params(which='both', labelsize=5.8, pad=2)
    ax.tick_params(which='major', length=3)
    ax.tick_params(which='minor', length=1.8)
    ax.set_title('CIFAR10 - ' + models[c], fontsize=11, pad=4 if r == 0 else 2.5)
    ax.set_xlabel('Iteration', fontsize=8.3, labelpad=0)
    ax.set_ylabel(ylabels[r], fontsize=8.3, labelpad=2)
    ax.set_xticks([0, 1000, 2000, 3000, 4000, 5000])
    return ax


def add_legend(ax, r, c):
    l, t, rr, b = boxes[r][c]
    ax.legend(methods, loc='center', bbox_to_anchor=((l + rr) / 2 / W, 1 - legend_y[r] / H),
              bbox_transform=fig.transFigure, ncol=3, fontsize=6.5, handlelength=2.2,
              handletextpad=0.6, columnspacing=1.9, borderpad=0.45, frameon=True)


# row 1
row1 = [(sxs_cnn_nls, sxs_cnn_ub, sxs_cnn_cdat), (sxs_res_nls, sxs_res_ub, sxs_res_cdat),
        (sxs_vgg_nls, sxs_vgg_ub, sxs_vgg_cdat)]
row1_top = [10, 16.5, 14]
for c in range(3):
    ax = make_ax(0, c)
    for s, col in zip(row1[c], colors):
        ax.plot(np.arange(len(s)) * 100, s, color=col, lw=1)
    ax.axhline(2, color='#b44bb4', ls='--', lw=2.2)
    ax.axhline(1, color='#404040', ls='--', lw=2.2)
    ax.set_ylim(0.8, row1_top[c])
    ax.set_xlim(-50, 5150)
    ax.set_yticks([1, 2, 10])
    ax.set_yticklabels(['1-c', '2', '10'])
    ax.yaxis.set_minor_formatter(NullFormatter())
    add_legend(ax, 0, c)

# row 2
grid20 = np.arange(0, 5001, 20)
res_nls = np.full(len(grid20), ss_res_nls_base)
res_nls[0] = ss_res_nls_start
res_nls[np.isin(grid20, ss_res_nls_hi)] = 16
res_nls[np.isin(grid20, ss_res_nls_lo)] = 4
it50 = np.arange(101) * 50
row2 = [
    [(ss_cnn_nls_it, ss_cnn_nls), (ss_cnn_ub_it, ss_cnn_ub), (it50, ss_cnn_cdat)],
    [(grid20, res_nls), (ss_res_ub_it, ss_res_ub), (it50, ss_res_cdat)],
    [(ss_vgg_nls_it, ss_vgg_nls), (ss_vgg_ub_it, ss_vgg_ub), (it50, ss_vgg_cdat)],
]
row2_lim = [(0.102, 9.8), (0.00105, 26), (0.055, 42)]
for c in range(3):
    ax = make_ax(1, c)
    for (x, y), col in zip(row2[c], colors):
        ax.plot(x, y, color=col, lw=1)
    ax.set_ylim(*row2_lim[c])
    ax.set_xlim(-50, 5030)
    add_legend(ax, 1, c)

# row 3
row3 = [(sh_cnn_nls, sh_cnn_ub, sh_cnn_cdat), (sh_res_nls, sh_res_ub, sh_res_cdat),
        (sh_vgg_nls, sh_vgg_ub, sh_vgg_cdat)]
row3_top = [3, 5, 3]
for c in range(3):
    ax = make_ax(2, c)
    for s, col in zip(row3[c], colors):
        ax.plot(np.arange(len(s)) * 100, s, color=col, lw=1.2)
    ax.axhline(two_over_k, color='#f7c66b', ls='--', lw=0.8)
    ax.set_ylim(1e-2, 10.0 ** row3_top[c])
    ax.set_xlim(-40, 5040)
    pows = list(range(-2, row3_top[c] + 1))
    ax.set_yticks([10.0 ** p for p in pows] + [two_over_k])
    ax.set_yticklabels(['$\\mathdefault{10^{%d}}$' % p for p in pows] + ['2/K'])
    ax.yaxis.set_minor_formatter(NullFormatter())
    add_legend(ax, 2, c)

# row 4
row4 = [(tl_cnn_nls, tl_cnn_ub, tl_cnn_cdat), (tl_res_nls, tl_res_ub, tl_res_cdat),
        (tl_vgg_nls, tl_vgg_ub, tl_vgg_cdat)]
row4_lim = [(0.0182, 0.1025), (4e-6, 0.75), (3e-5, 0.12)]
for c in range(3):
    ax = make_ax(3, c)
    for s, col in zip(row4[c], colors):
        ax.plot(np.arange(len(s)) * 50, s, color=col, lw=1)
    ax.set_ylim(*row4_lim[c])
    ax.set_xlim(-40, 5040)
    add_legend(ax, 3, c)

# row 5
row5 = [(ta_cnn_nls, ta_cnn_ub, ta_cnn_cdat), (ta_res_nls, ta_res_ub, ta_res_cdat),
        (ta_vgg_nls, ta_vgg_ub, ta_vgg_cdat)]
row5_lim = [(8, 58), (9.4, 46), (9.3, 61)]
for c in range(3):
    ax = make_ax(4, c)
    for s, col in zip(row5[c], colors):
        ax.plot(np.arange(len(s)) * 50, s, color=col, lw=1)
    ax.set_ylim(*row5_lim[c])
    ax.set_xlim(-50, 5040)
    add_legend(ax, 4, c)

fig.savefig('out.png', dpi=100)
